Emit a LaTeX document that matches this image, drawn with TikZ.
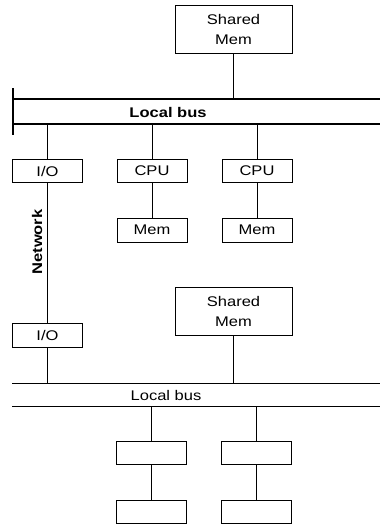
\documentclass[tikz,border=0pt]{standalone}
\usepackage{fontspec}
\setmainfont{Liberation Sans}[FakeStretch=1.18]

\begin{document}
\begin{tikzpicture}[x=1pt, y=-1pt, line width=0.8pt,
  unit/.style={draw, inner sep=0pt, minimum width=70pt, minimum height=23pt},
  shmem/.style={unit, minimum width=117pt, minimum height=48pt, align=center},
  every node/.style={font=\fontsize{14}{20}\selectfont}]
  \useasboundingbox (0,0) rectangle (380,525);

  % upper bus
  \coordinate (ubN) at (13, 99);
  \coordinate (ubS) at (13,124);
  \draw[line width=1.4pt] (ubN) -- (380, 99);
  \draw[line width=1.4pt] (ubS) -- (380,124);
  \draw[line width=1.4pt] (13,88) -- (13,135);
  \node (ubus) at (168,112) {\bfseries Local bus};

  % lower bus
  \coordinate (lbN) at (12,383);
  \coordinate (lbS) at (12,406);
  \draw (lbN) -- (380,383);
  \draw (lbS) -- (380,406);
  \node (lbus) at (166,395) {Local bus};

  \node[shmem] (sm1) at (233.5, 29) {Shared\\Mem};
  \node[unit]  (io1) at (47.5,171) {I/O};
  \node[unit] (cpu1) at (152,171) {CPU};
  \node[unit] (cpu2) at (257,171) {CPU};
  \node[unit, minimum height=24pt] (mem1) at (152,230) {Mem};
  \node[unit, minimum height=24pt] (mem2) at (257,230) {Mem};

  \node[shmem] (sm2) at (233.5,311.5) {Shared\\Mem};
  \node[unit, minimum height=24pt] (io2) at (47.5,335) {I/O};
  \node[unit] (b1) at (151,452.5) {};
  \node[unit] (b2) at (256,452.5) {};
  \node[unit] (c1) at (151,511.5) {};
  \node[unit] (c2) at (256,511.5) {};

  \draw (sm1.south) -- (sm1.south |- ubN);
  \draw (io1.north) -- (io1.north |- ubS);
  \draw (cpu1.north) -- (cpu1.north |- ubS);
  \draw (cpu2.north) -- (cpu2.north |- ubS);
  \draw (cpu1) -- (mem1);
  \draw (cpu2) -- (mem2);

  \draw (io1) -- (io2);
  \node[rotate=90] (net) at (37,242) {\bfseries Network};

  \draw (sm2.south) -- (sm2.south |- lbN);
  \draw (io2.south) -- (io2.south |- lbN);
  \draw (b1.north) -- (b1.north |- lbS);
  \draw (b2.north) -- (b2.north |- lbS);
  \draw (b1) -- (c1);
  \draw (b2) -- (c2);
\end{tikzpicture}
\end{document}
